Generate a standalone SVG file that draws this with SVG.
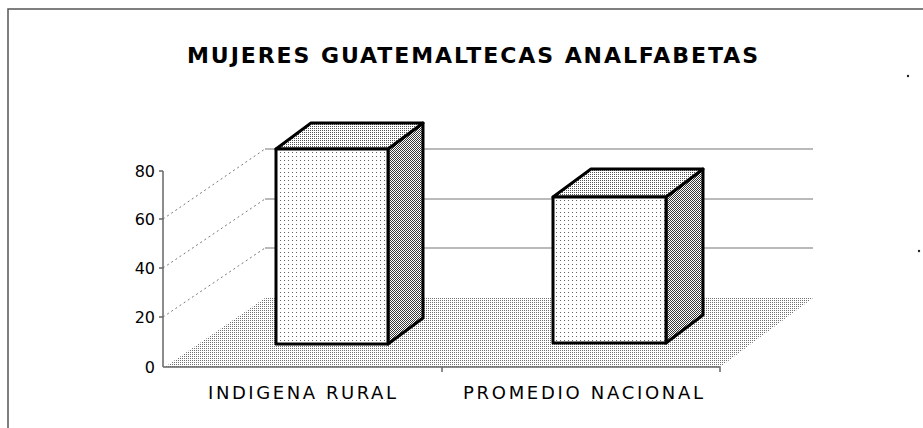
<svg xmlns="http://www.w3.org/2000/svg" width="923" height="428" viewBox="0 0 923 428">
  <defs>
    <pattern id="floorPat" width="2" height="2" patternUnits="userSpaceOnUse">
      <rect width="2" height="2" fill="#ffffff"/>
      <rect width="1" height="1" fill="#707070"/>
    </pattern>
    <pattern id="frontPat" width="4" height="4" patternUnits="userSpaceOnUse">
      <rect width="4" height="4" fill="#ffffff"/>
      <rect width="1" height="1" fill="#666666"/>
    </pattern>
    <pattern id="topPat" width="2" height="2" patternUnits="userSpaceOnUse">
      <rect width="2" height="2" fill="#ffffff"/>
      <rect width="1" height="1" fill="#555555"/>
    </pattern>
    <pattern id="sidePat" width="2" height="2" patternUnits="userSpaceOnUse">
      <rect width="2" height="2" fill="#ffffff"/>
      <rect width="1" height="1" fill="#3a3a3a"/>
      <rect x="1" y="1" width="1" height="1" fill="#3a3a3a"/>
    </pattern>
  </defs>
  <style>
    .frame { stroke: #555; stroke-width: 1.5; fill: none; }
    .grid { stroke: #777; stroke-width: 1.2; fill: none; }
    .diag { stroke: #777; stroke-width: 1; stroke-dasharray: 2 3; fill: none; }
    .axis { stroke: #666; stroke-width: 1.5; fill: none; }
    .box { stroke: #000; stroke-width: 3; stroke-linejoin: round; }
    .front { fill: url(#frontPat); }
    .top { fill: url(#topPat); }
    .side { fill: url(#sidePat); }
    .title { font-family: "DejaVu Sans", "Liberation Sans", sans-serif; font-size: 22px; font-weight: bold; fill: #000; }
    .tick { font-family: "DejaVu Sans", "Liberation Sans", sans-serif; font-size: 16px; fill: #000; text-anchor: end; }
    .cat { font-family: "DejaVu Sans", "Liberation Sans", sans-serif; font-size: 18px; fill: #000; }
  </style>
  <rect width="923" height="428" fill="#ffffff"/>

  <g id="frame">
    <polyline class="frame" points="8,428 8,9 923,9"/>
    <circle cx="908" cy="76" r="1.2" fill="#222"/>
    <circle cx="919" cy="251" r="1.2" fill="#222"/>
  </g>

  <g id="title">
    <text class="title" x="187" y="63" textLength="571" lengthAdjust="spacing">MUJERES GUATEMALTECAS ANALFABETAS</text>
  </g>

  <g id="floor">
    <polygon points="165,367 265,298 813,298 720,367" fill="url(#floorPat)"/>
  </g>

  <g id="gridlines">
    <line class="grid" x1="265" y1="149" x2="813" y2="149"/>
    <line class="grid" x1="265" y1="199" x2="813" y2="199"/>
    <line class="grid" x1="265" y1="248" x2="813" y2="248"/>
    <line class="diag" x1="163" y1="219" x2="265" y2="149"/>
    <line class="diag" x1="163" y1="268" x2="265" y2="199"/>
    <line class="diag" x1="163" y1="317" x2="265" y2="248"/>
  </g>

  <g id="axes">
    <line class="axis" x1="163" y1="171" x2="163" y2="367"/>
    <line class="axis" x1="163" y1="367" x2="720" y2="367"/>
    <line class="axis" x1="442" y1="367" x2="442" y2="372"/>
    <line class="axis" x1="720" y1="367" x2="720" y2="372"/>
    <line class="axis" x1="159" y1="171" x2="163" y2="171"/>
    <line class="axis" x1="159" y1="219" x2="163" y2="219"/>
    <line class="axis" x1="159" y1="268" x2="163" y2="268"/>
    <line class="axis" x1="159" y1="317" x2="163" y2="317"/>
    <text class="tick" x="155" y="177">80</text>
    <text class="tick" x="155" y="225">60</text>
    <text class="tick" x="155" y="274">40</text>
    <text class="tick" x="155" y="323">20</text>
    <text class="tick" x="155" y="373">0</text>
  </g>

  <g id="bar-indigena-rural">
    <polygon class="box side" points="388,149 423,123 423,318 388,344"/>
    <polygon class="box top" points="276,149 311,123 423,123 388,149"/>
    <rect class="box front" x="276" y="149" width="112" height="195"/>
  </g>

  <g id="bar-promedio-nacional">
    <polygon class="box side" points="666,197 703,169 703,315 666,343"/>
    <polygon class="box top" points="553,197 591,169 703,169 666,197"/>
    <rect class="box front" x="553" y="197" width="113" height="146"/>
  </g>

  <g id="categories">
    <text class="cat" x="208" y="399" textLength="188" lengthAdjust="spacing">INDIGENA RURAL</text>
    <text class="cat" x="463" y="399" textLength="240" lengthAdjust="spacing">PROMEDIO NACIONAL</text>
  </g>
</svg>
